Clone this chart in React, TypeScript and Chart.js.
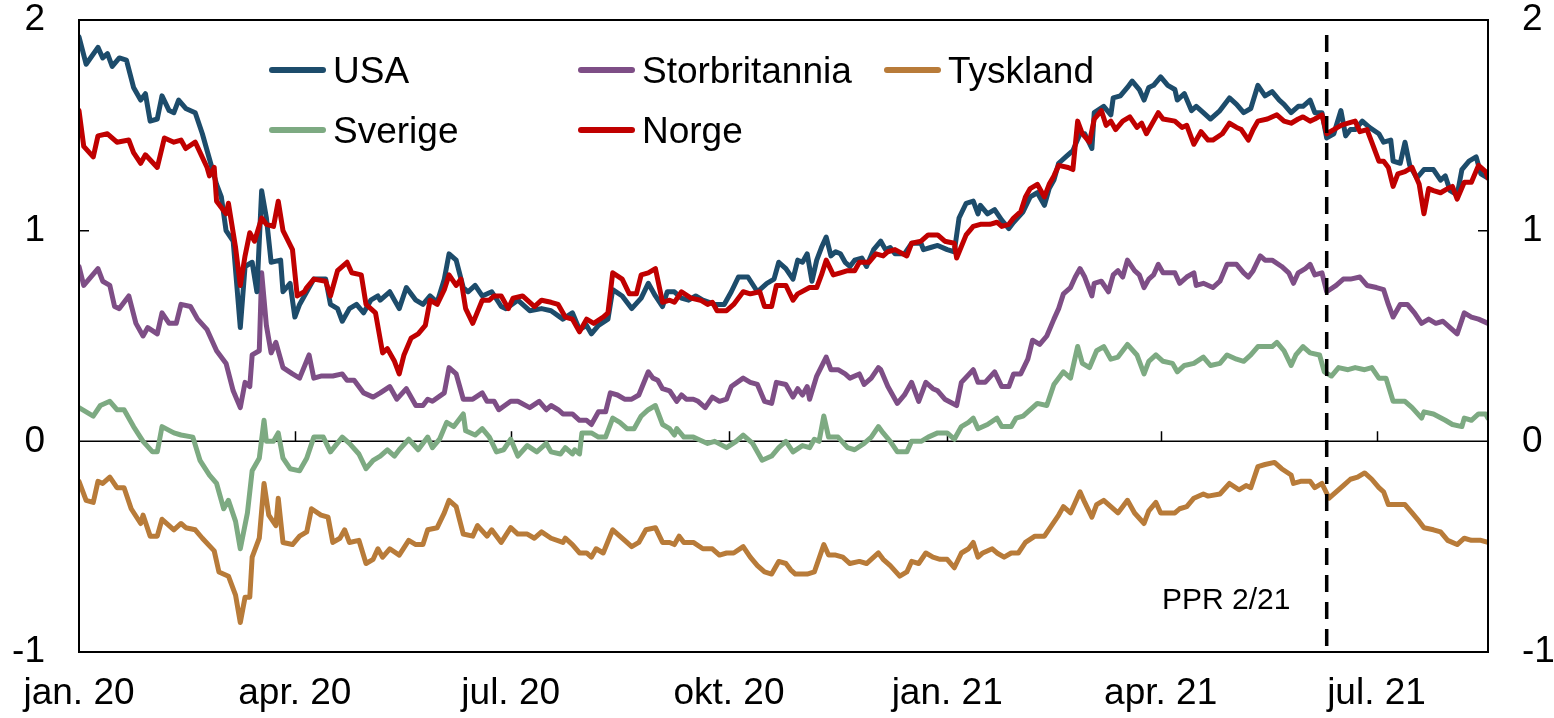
import React, { useEffect, useRef } from "react";
import { Chart, registerables } from "chart.js";

Chart.register(...registerables);

// ---- Data (days counted from startDate) ----
const startDate = "2020-01-01";
const endDate = "2021-08-17";
const pprDate = "2021-06-10";
const pprLabel = "PPR 2/21";
const quarterDates = ["2020-01-01", "2020-04-01", "2020-07-01", "2020-10-01", "2021-01-01", "2021-04-01", "2021-07-01"];
const quarterLabels = ["jan. 20", "apr. 20", "jul. 20", "okt. 20", "jan. 21", "apr. 21", "jul. 21"];
const yTickValues = [-1, 0, 1, 2];

const usaDays = [0, 3, 8, 10, 12, 14, 17, 20, 23, 26, 28, 30, 33, 35, 38, 40, 42, 45, 49, 52, 55, 58, 60, 62, 65, 68, 70, 73, 75, 77, 79, 81, 85, 86, 89, 91, 93, 96, 99, 104, 106, 109, 111, 114, 117, 120, 123, 126, 127, 131, 135, 138, 142, 145, 148, 151, 154, 156, 159, 162, 164, 167, 170, 174, 178, 180, 185, 190, 195, 199, 204, 208, 211, 214, 216, 219, 223, 225, 229, 233, 237, 240, 243, 246, 248, 251, 254, 257, 260, 263, 268, 272, 275, 278, 282, 286, 290, 293, 295, 298, 301, 303, 305, 307, 309, 311, 313, 315, 317, 319, 321, 323, 325, 327, 330, 332, 335, 338, 340, 342, 344, 348, 351, 355, 356, 359, 362, 366, 369, 371, 374, 377, 379, 380, 383, 386, 389, 392, 394, 398, 401, 404, 407, 409, 411, 413, 416, 419, 422, 424, 427, 428, 432, 435, 436, 439, 442, 444, 447, 449, 451, 453, 456, 459, 462, 463, 466, 469, 471, 474, 477, 481, 485, 488, 491, 494, 497, 500, 503, 506, 508, 511, 514, 516, 519, 521, 524, 526, 529, 532, 534, 536, 538, 541, 544, 548, 550, 553, 554, 557, 559, 561, 564, 567, 569, 571, 574, 576, 578, 581, 583, 586, 589, 591, 594];
const usaValues = [1.92, 1.79, 1.87, 1.82, 1.84, 1.78, 1.82, 1.81, 1.68, 1.62, 1.65, 1.52, 1.53, 1.64, 1.57, 1.56, 1.62, 1.58, 1.56, 1.46, 1.34, 1.22, 1.16, 1.0, 0.95, 0.54, 0.83, 0.85, 0.71, 1.19, 1.06, 0.85, 0.86, 0.71, 0.75, 0.59, 0.65, 0.71, 0.77, 0.77, 0.65, 0.63, 0.57, 0.63, 0.65, 0.61, 0.67, 0.69, 0.67, 0.71, 0.63, 0.73, 0.67, 0.65, 0.69, 0.66, 0.77, 0.89, 0.86, 0.73, 0.71, 0.74, 0.69, 0.71, 0.64, 0.63, 0.67, 0.62, 0.63, 0.62, 0.58, 0.61, 0.53, 0.55, 0.51, 0.55, 0.58, 0.72, 0.69, 0.63, 0.68, 0.75, 0.69, 0.64, 0.71, 0.71, 0.68, 0.67, 0.69, 0.67, 0.65, 0.65, 0.71, 0.78, 0.78, 0.71, 0.75, 0.77, 0.85, 0.82, 0.77, 0.86, 0.85, 0.89, 0.76, 0.86, 0.92, 0.97, 0.88, 0.9, 0.89, 0.85, 0.83, 0.86, 0.87, 0.83, 0.91, 0.95, 0.91, 0.92, 0.89, 0.89, 0.94, 0.94, 0.91, 0.92, 0.93, 0.91, 0.9, 1.06, 1.13, 1.14, 1.08, 1.12, 1.08, 1.1, 1.05, 1.01, 1.04, 1.09, 1.16, 1.18, 1.12, 1.2, 1.24, 1.32, 1.35, 1.38, 1.46, 1.46, 1.39, 1.56, 1.59, 1.55, 1.63, 1.64, 1.68, 1.71, 1.67, 1.62, 1.68, 1.69, 1.73, 1.69, 1.67, 1.62, 1.65, 1.57, 1.59, 1.56, 1.53, 1.57, 1.63, 1.6, 1.56, 1.58, 1.69, 1.64, 1.66, 1.62, 1.6, 1.56, 1.59, 1.59, 1.62, 1.56, 1.56, 1.44, 1.46, 1.57, 1.45, 1.48, 1.48, 1.52, 1.49, 1.46, 1.42, 1.43, 1.33, 1.32, 1.42, 1.31, 1.25, 1.29, 1.29, 1.29, 1.24, 1.26, 1.19, 1.17, 1.29, 1.33, 1.35, 1.27, 1.25];

const norgeDays = [0, 2, 6, 8, 12, 16, 21, 23, 26, 28, 33, 36, 40, 43, 45, 49, 54, 55, 57, 58, 62, 63, 66, 68, 70, 72, 74, 77, 79, 82, 84, 86, 90, 92, 95, 96, 99, 104, 106, 109, 113, 115, 119, 121, 125, 128, 130, 133, 135, 137, 140, 143, 146, 148, 151, 154, 156, 159, 161, 163, 166, 170, 173, 175, 178, 181, 183, 187, 192, 195, 199, 202, 205, 208, 211, 214, 217, 221, 223, 225, 229, 232, 235, 237, 240, 243, 246, 249, 251, 254, 258, 262, 265, 267, 269, 273, 276, 280, 283, 287, 289, 292, 294, 298, 301, 303, 308, 311, 313, 315, 318, 321, 324, 327, 329, 333, 336, 339, 341, 344, 349, 351, 355, 358, 362, 365, 369, 370, 374, 377, 380, 384, 387, 389, 392, 394, 397, 399, 401, 404, 407, 409, 411, 413, 417, 419, 421, 423, 426, 428, 431, 433, 435, 437, 440, 443, 446, 448, 450, 453, 455, 457, 462, 465, 467, 470, 473, 476, 478, 482, 485, 488, 490, 493, 495, 497, 501, 505, 508, 511, 514, 516, 519, 521, 524, 526, 529, 532, 535, 538, 540, 543, 545, 548, 550, 552, 554, 556, 559, 562, 565, 567, 569, 571, 574, 577, 579, 581, 584, 587, 590, 593, 594];
const norgeValues = [1.57, 1.4, 1.35, 1.45, 1.46, 1.42, 1.43, 1.37, 1.32, 1.36, 1.3, 1.44, 1.42, 1.43, 1.39, 1.42, 1.3, 1.26, 1.3, 1.14, 1.08, 1.13, 0.92, 0.74, 0.88, 0.99, 0.95, 1.06, 1.03, 1.02, 1.14, 1.0, 0.91, 0.69, 0.71, 0.73, 0.77, 0.76, 0.69, 0.81, 0.85, 0.8, 0.79, 0.65, 0.61, 0.42, 0.44, 0.38, 0.32, 0.41, 0.49, 0.51, 0.55, 0.67, 0.65, 0.72, 0.79, 0.74, 0.77, 0.63, 0.56, 0.67, 0.67, 0.69, 0.69, 0.63, 0.68, 0.69, 0.64, 0.67, 0.66, 0.65, 0.59, 0.58, 0.52, 0.58, 0.56, 0.59, 0.61, 0.8, 0.77, 0.7, 0.7, 0.79, 0.8, 0.82, 0.66, 0.67, 0.66, 0.71, 0.68, 0.67, 0.65, 0.66, 0.62, 0.62, 0.65, 0.71, 0.7, 0.71, 0.64, 0.64, 0.74, 0.74, 0.67, 0.7, 0.73, 0.73, 0.79, 0.86, 0.79, 0.8, 0.81, 0.81, 0.85, 0.85, 0.89, 0.88, 0.9, 0.91, 0.88, 0.94, 0.95, 0.98, 0.98, 0.95, 0.94, 0.87, 0.98, 1.02, 1.03, 1.03, 1.04, 1.02, 1.03, 1.06, 1.09, 1.16, 1.2, 1.22, 1.16, 1.22, 1.26, 1.31, 1.3, 1.29, 1.52, 1.46, 1.42, 1.53, 1.57, 1.5, 1.52, 1.48, 1.52, 1.54, 1.49, 1.51, 1.46, 1.52, 1.56, 1.53, 1.52, 1.49, 1.5, 1.41, 1.47, 1.43, 1.43, 1.46, 1.51, 1.49, 1.48, 1.43, 1.48, 1.52, 1.53, 1.55, 1.52, 1.51, 1.53, 1.54, 1.52, 1.53, 1.55, 1.46, 1.48, 1.5, 1.51, 1.52, 1.47, 1.48, 1.42, 1.33, 1.33, 1.3, 1.21, 1.27, 1.28, 1.3, 1.22, 1.08, 1.2, 1.19, 1.18, 1.2, 1.21, 1.15, 1.23, 1.23, 1.31, 1.28, 1.25];

const ukDays = [0, 2, 8, 10, 13, 15, 17, 21, 24, 27, 29, 33, 35, 38, 41, 43, 47, 50, 54, 58, 62, 65, 68, 70, 72, 73, 76, 77, 79, 81, 83, 86, 90, 93, 97, 99, 102, 107, 111, 113, 116, 120, 124, 127, 131, 134, 138, 142, 145, 147, 149, 154, 156, 159, 162, 166, 170, 172, 175, 177, 182, 185, 190, 194, 197, 199, 202, 204, 208, 211, 214, 216, 219, 222, 224, 227, 230, 233, 236, 240, 242, 244, 246, 249, 252, 254, 256, 259, 261, 264, 267, 270, 273, 275, 280, 283, 286, 289, 292, 294, 298, 301, 303, 305, 307, 308, 311, 315, 317, 320, 323, 325, 329, 331, 334, 337, 338, 341, 345, 348, 351, 354, 357, 360, 362, 365, 370, 372, 377, 379, 382, 386, 389, 392, 394, 397, 400, 402, 405, 408, 411, 413, 415, 418, 420, 422, 424, 427, 428, 431, 434, 436, 438, 440, 442, 445, 447, 449, 451, 453, 455, 457, 462, 464, 467, 470, 471, 474, 478, 481, 484, 488, 491, 493, 495, 498, 500, 503, 507, 510, 512, 514, 517, 519, 521, 524, 526, 530, 533, 536, 540, 543, 547, 550, 552, 554, 557, 560, 563, 566, 569, 572, 575, 578, 581, 584, 587, 590, 594];
const ukValues = [0.83, 0.74, 0.82, 0.76, 0.74, 0.64, 0.63, 0.69, 0.56, 0.5, 0.54, 0.51, 0.61, 0.56, 0.56, 0.65, 0.64, 0.58, 0.53, 0.43, 0.37, 0.24, 0.16, 0.28, 0.26, 0.41, 0.43, 0.8, 0.55, 0.42, 0.47, 0.35, 0.32, 0.3, 0.41, 0.3, 0.31, 0.31, 0.32, 0.29, 0.29, 0.23, 0.21, 0.23, 0.26, 0.2, 0.25, 0.17, 0.17, 0.2, 0.19, 0.23, 0.35, 0.32, 0.2, 0.2, 0.23, 0.19, 0.19, 0.15, 0.19, 0.19, 0.16, 0.19, 0.15, 0.17, 0.15, 0.13, 0.13, 0.1, 0.1, 0.08, 0.14, 0.14, 0.23, 0.22, 0.2, 0.2, 0.22, 0.33, 0.3, 0.29, 0.25, 0.24, 0.19, 0.22, 0.2, 0.2, 0.19, 0.16, 0.21, 0.19, 0.2, 0.26, 0.3, 0.28, 0.27, 0.19, 0.18, 0.28, 0.27, 0.21, 0.25, 0.22, 0.26, 0.2, 0.31, 0.4, 0.34, 0.34, 0.32, 0.3, 0.32, 0.27, 0.3, 0.35, 0.34, 0.26, 0.18, 0.22, 0.28, 0.19, 0.28, 0.25, 0.24, 0.2, 0.17, 0.28, 0.34, 0.28, 0.28, 0.33, 0.26, 0.26, 0.32, 0.32, 0.39, 0.48, 0.46, 0.5, 0.58, 0.63, 0.7, 0.73, 0.78, 0.82, 0.78, 0.69, 0.75, 0.76, 0.71, 0.79, 0.81, 0.78, 0.86, 0.81, 0.79, 0.73, 0.77, 0.79, 0.84, 0.8, 0.8, 0.75, 0.78, 0.8, 0.74, 0.75, 0.73, 0.76, 0.84, 0.84, 0.8, 0.78, 0.81, 0.88, 0.86, 0.86, 0.83, 0.8, 0.75, 0.8, 0.82, 0.84, 0.79, 0.8, 0.71, 0.74, 0.77, 0.77, 0.78, 0.74, 0.73, 0.72, 0.65, 0.59, 0.65, 0.65, 0.61, 0.56, 0.58, 0.56, 0.57, 0.54, 0.51, 0.61, 0.59, 0.58, 0.56];

const sverigeDays = [0, 6, 9, 13, 16, 19, 23, 27, 31, 33, 35, 40, 43, 48, 51, 55, 58, 61, 63, 66, 68, 71, 73, 76, 78, 79, 82, 84, 86, 89, 93, 96, 99, 103, 106, 111, 114, 118, 121, 124, 127, 130, 133, 135, 139, 143, 147, 149, 152, 155, 158, 162, 163, 167, 170, 173, 176, 179, 182, 185, 189, 193, 197, 199, 203, 205, 208, 209, 211, 212, 216, 219, 222, 225, 228, 231, 234, 237, 240, 243, 246, 249, 251, 252, 255, 259, 261, 265, 268, 273, 277, 280, 284, 288, 292, 295, 298, 301, 305, 308, 310, 312, 314, 316, 320, 324, 327, 331, 334, 337, 339, 342, 345, 349, 351, 355, 358, 362, 366, 369, 372, 375, 377, 379, 383, 387, 389, 393, 395, 398, 400, 404, 408, 411, 415, 418, 421, 423, 426, 429, 432, 435, 438, 442, 446, 449, 451, 454, 457, 461, 463, 466, 470, 474, 477, 481, 484, 488, 491, 494, 497, 500, 503, 505, 508, 511, 513, 516, 519, 523, 525, 528, 531, 535, 538, 542, 545, 548, 551, 554, 559, 562, 566, 567, 571, 576, 579, 583, 584, 587, 590, 593, 594];
const sverigeValues = [0.16, 0.12, 0.17, 0.19, 0.15, 0.15, 0.07, 0.0, -0.05, -0.05, 0.07, 0.04, 0.03, 0.02, -0.09, -0.16, -0.2, -0.32, -0.28, -0.38, -0.51, -0.34, -0.14, -0.08, 0.1, 0.0, 0.0, 0.04, -0.08, -0.13, -0.14, -0.08, 0.02, 0.02, -0.05, 0.02, -0.01, -0.06, -0.13, -0.09, -0.07, -0.04, -0.07, -0.04, 0.01, -0.04, 0.02, -0.03, 0.01, 0.09, 0.07, 0.13, 0.05, 0.03, 0.06, 0.02, -0.05, -0.04, 0.01, -0.07, -0.02, -0.05, -0.01, -0.05, -0.06, -0.03, -0.06, -0.04, -0.06, 0.04, 0.04, 0.02, 0.02, 0.11, 0.09, 0.06, 0.06, 0.12, 0.15, 0.17, 0.08, 0.06, 0.03, 0.06, 0.02, 0.02, 0.01, -0.01, 0.0, -0.03, 0.0, 0.03, -0.01, -0.09, -0.07, -0.03, 0.0, -0.05, -0.02, -0.03, 0.01, 0.0, 0.12, 0.02, 0.02, -0.03, -0.04, -0.01, 0.02, 0.07, 0.04, 0.0, -0.05, -0.05, 0.0, 0.0, 0.02, 0.04, 0.04, 0.01, 0.07, 0.09, 0.11, 0.06, 0.08, 0.11, 0.07, 0.07, 0.11, 0.12, 0.14, 0.18, 0.17, 0.27, 0.33, 0.3, 0.45, 0.37, 0.35, 0.43, 0.45, 0.39, 0.4, 0.46, 0.41, 0.32, 0.38, 0.41, 0.38, 0.37, 0.33, 0.36, 0.37, 0.4, 0.36, 0.37, 0.41, 0.39, 0.38, 0.41, 0.45, 0.45, 0.45, 0.47, 0.43, 0.36, 0.41, 0.45, 0.42, 0.41, 0.33, 0.31, 0.35, 0.34, 0.35, 0.34, 0.35, 0.3, 0.3, 0.19, 0.19, 0.16, 0.11, 0.14, 0.13, 0.1, 0.08, 0.07, 0.11, 0.1, 0.13, 0.13, 0.11];

const tysklandDays = [0, 3, 6, 8, 10, 13, 16, 19, 22, 26, 27, 30, 33, 35, 40, 43, 45, 49, 52, 57, 59, 63, 66, 68, 70, 72, 73, 76, 78, 80, 83, 84, 86, 90, 93, 96, 98, 102, 105, 107, 110, 112, 114, 118, 121, 124, 126, 128, 131, 135, 139, 142, 145, 147, 151, 154, 156, 159, 162, 166, 168, 172, 174, 178, 182, 185, 189, 192, 195, 199, 204, 205, 208, 211, 214, 216, 218, 221, 225, 228, 231, 233, 236, 239, 243, 246, 249, 251, 253, 255, 259, 263, 267, 270, 273, 276, 280, 283, 286, 289, 292, 295, 298, 300, 302, 305, 307, 310, 314, 316, 319, 322, 325, 329, 332, 337, 339, 342, 346, 349, 351, 354, 357, 360, 363, 366, 369, 372, 375, 377, 379, 381, 385, 387, 390, 393, 396, 399, 403, 407, 410, 413, 415, 418, 422, 424, 427, 429, 432, 435, 438, 442, 445, 449, 451, 454, 456, 462, 464, 467, 470, 474, 476, 481, 485, 489, 492, 494, 497, 500, 504, 507, 511, 512, 515, 519, 521, 524, 527, 530, 533, 536, 539, 542, 545, 548, 550, 552, 555, 559, 562, 565, 567, 571, 574, 577, 581, 584, 587, 591, 594];
const tysklandValues = [-0.19, -0.28, -0.29, -0.19, -0.2, -0.17, -0.22, -0.22, -0.32, -0.39, -0.35, -0.45, -0.45, -0.37, -0.42, -0.39, -0.41, -0.42, -0.46, -0.52, -0.62, -0.64, -0.73, -0.86, -0.74, -0.74, -0.55, -0.46, -0.2, -0.35, -0.4, -0.27, -0.48, -0.49, -0.45, -0.43, -0.32, -0.35, -0.36, -0.48, -0.46, -0.42, -0.48, -0.47, -0.58, -0.56, -0.51, -0.55, -0.51, -0.54, -0.47, -0.49, -0.49, -0.42, -0.41, -0.34, -0.28, -0.31, -0.44, -0.45, -0.4, -0.45, -0.42, -0.48, -0.41, -0.44, -0.44, -0.46, -0.43, -0.46, -0.48, -0.46, -0.49, -0.53, -0.53, -0.55, -0.51, -0.53, -0.42, -0.45, -0.48, -0.5, -0.48, -0.42, -0.41, -0.48, -0.48, -0.49, -0.45, -0.48, -0.48, -0.51, -0.51, -0.54, -0.53, -0.53, -0.5, -0.55, -0.59, -0.62, -0.63, -0.57, -0.58, -0.61, -0.63, -0.63, -0.63, -0.62, -0.49, -0.54, -0.54, -0.55, -0.58, -0.57, -0.58, -0.53, -0.56, -0.59, -0.64, -0.62, -0.57, -0.58, -0.53, -0.55, -0.56, -0.56, -0.6, -0.53, -0.51, -0.48, -0.55, -0.53, -0.51, -0.53, -0.55, -0.53, -0.53, -0.48, -0.45, -0.45, -0.4, -0.35, -0.31, -0.34, -0.24, -0.29, -0.36, -0.3, -0.28, -0.31, -0.34, -0.28, -0.34, -0.39, -0.33, -0.29, -0.34, -0.34, -0.32, -0.31, -0.27, -0.25, -0.26, -0.25, -0.2, -0.23, -0.21, -0.22, -0.12, -0.11, -0.1, -0.13, -0.16, -0.2, -0.19, -0.19, -0.22, -0.2, -0.27, -0.24, -0.21, -0.18, -0.17, -0.15, -0.18, -0.22, -0.24, -0.3, -0.3, -0.3, -0.34, -0.38, -0.41, -0.42, -0.43, -0.47, -0.49, -0.46, -0.47, -0.47, -0.48];

const seriesNames = ["USA", "Storbritannia", "Tyskland", "Sverige", "Norge"];
const seriesColors = ["#1D4C6B", "#7E4E86", "#B87B39", "#7DAA82", "#C00000"];

// ---- helpers ----
const dayOf = (d: string) => Math.round((Date.parse(d) - Date.parse(startDate)) / 86400000);
const FONT = "'Liberation Sans', Arial, sans-serif";

const toPoints = (days: number[], vals: number[]) => days.map((d, i) => ({ x: d, y: vals[i] }));

const decorPlugin = {
  id: "decor",
  beforeDatasetsDraw(chart: any) {
    const { ctx, chartArea: a, scales } = chart;
    const x = scales.x;
    const y = scales.y;
    const y0 = y.getPixelForValue(0);
    const y1 = y.getPixelForValue(1);
    ctx.save();
    ctx.strokeStyle = "#000";
    ctx.lineWidth = 1.5;
    ctx.beginPath();
    ctx.moveTo(a.left, y0);
    ctx.lineTo(a.right, y0);
    quarterDates.slice(1).forEach((d) => {
      const px = Math.round(x.getPixelForValue(dayOf(d))) + 0.5;
      ctx.moveTo(px, y0);
      ctx.lineTo(px, y0 - 10);
    });
    ctx.moveTo(a.left, y1);
    ctx.lineTo(a.left + 10, y1);
    ctx.moveTo(a.right, y1);
    ctx.lineTo(a.right - 10, y1);
    ctx.stroke();
    ctx.restore();
  },
  afterDatasetsDraw(chart: any) {
    const { ctx, chartArea: a, scales } = chart;
    const px = scales.x.getPixelForValue(dayOf(pprDate));
    ctx.save();
    ctx.strokeStyle = "#000";
    ctx.lineWidth = 3.5;
    ctx.setLineDash([17, 10]);
    ctx.beginPath();
    ctx.moveTo(px, a.top + 15);
    ctx.lineTo(px, a.bottom);
    ctx.stroke();
    ctx.setLineDash([]);
    // frame
    ctx.lineWidth = 2;
    ctx.strokeRect(a.left, a.top, a.right - a.left, a.bottom - a.top);
    // PPR label
    ctx.fillStyle = "#000";
    ctx.font = `30px ${FONT}`;
    ctx.textAlign = "left";
    ctx.textBaseline = "alphabetic";
    ctx.fillText(pprLabel, 1162, 609);
    // legend
    const cols = [272, 581, 887];
    const rows = [70, 130];
    const slots = [
      [0, 0],
      [0, 1],
      [0, 2],
      [1, 0],
      [1, 1],
    ];
    ctx.font = `37px ${FONT}`;
    seriesNames.forEach((name, i) => {
      const [r, c] = slots[i];
      const lx = cols[c];
      const ly = rows[r];
      ctx.strokeStyle = seriesColors[i];
      ctx.lineWidth = 6;
      ctx.lineCap = "round";
      ctx.beginPath();
      ctx.moveTo(lx, ly);
      ctx.lineTo(lx + 51, ly);
      ctx.stroke();
      ctx.fillStyle = "#000";
      ctx.fillText(name, lx + 61, ly + 13);
    });
    ctx.restore();
  },
};

export default function App() {
  const ref = useRef<HTMLCanvasElement | null>(null);
  useEffect(() => {
    document.body.style.margin = "0";
    const canvas = ref.current;
    if (!canvas) return;
    const dayArrays = [usaDays, ukDays, tysklandDays, sverigeDays, norgeDays];
    const valArrays = [usaValues, ukValues, tysklandValues, sverigeValues, norgeValues];
    const order = [4, 0, 1, 3, 2];
    const datasets = order.map((i) => ({
      label: seriesNames[i],
      data: toPoints(dayArrays[i], valArrays[i]),
      borderColor: seriesColors[i],
      backgroundColor: seriesColors[i],
      borderWidth: 5,
      pointRadius: 0,
      tension: 0,
      borderJoinStyle: "round" as const,
      borderCapStyle: "round" as const,
      fill: false,
    }));
    const tickFont = { family: FONT, size: 37 };
    const yCommon = {
      min: -1,
      max: 2,
      afterBuildTicks: (axis: any) => {
        axis.ticks = yTickValues.map((v) => ({ value: v }));
      },
      ticks: { font: tickFont, color: "#000", padding: 34 },
      grid: { display: false, drawTicks: false },
      border: { display: false },
    };
    const chart = new Chart(canvas, {
      type: "line",
      data: { datasets },
      options: {
        animation: false,
        responsive: false,
        maintainAspectRatio: false,
        layout: { padding: { top: 20, left: 0, right: 0, bottom: 0 } },
        plugins: { legend: { display: false }, tooltip: { enabled: false } },
        scales: {
          x: {
            type: "linear",
            min: 0,
            max: dayOf(endDate),
            afterBuildTicks: (axis: any) => {
              axis.ticks = quarterDates.map((d) => ({ value: dayOf(d) }));
            },
            ticks: {
              font: tickFont,
              color: "#000",
              padding: 20,
              maxRotation: 0,
              autoSkip: false,
              callback: (_v: any, i: number) => quarterLabels[i],
            },
            grid: { display: false, drawTicks: false },
            border: { display: false },
            afterFit: (s: any) => {
              s.height = 66;
              s.paddingLeft = 0;
              s.paddingRight = 0;
            },
          },
          y: {
            ...yCommon,
            position: "left",
            afterFit: (s: any) => {
              s.width = 79;
              s.paddingTop = 0;
              s.paddingBottom = 0;
            },
          },
          y2: {
            ...yCommon,
            position: "right",
            afterFit: (s: any) => {
              s.width = 66;
              s.paddingTop = 0;
              s.paddingBottom = 0;
            },
          },
        },
      } as any,
      plugins: [decorPlugin],
    });
    return () => chart.destroy();
  }, []);
  return (
    <div style={{ position: "absolute", left: 0, top: 0, width: 1554, height: 718, background: "#fff" }}>
      <canvas ref={ref} width={1554} height={718} style={{ width: 1554, height: 718 }} />
    </div>
  );
}
